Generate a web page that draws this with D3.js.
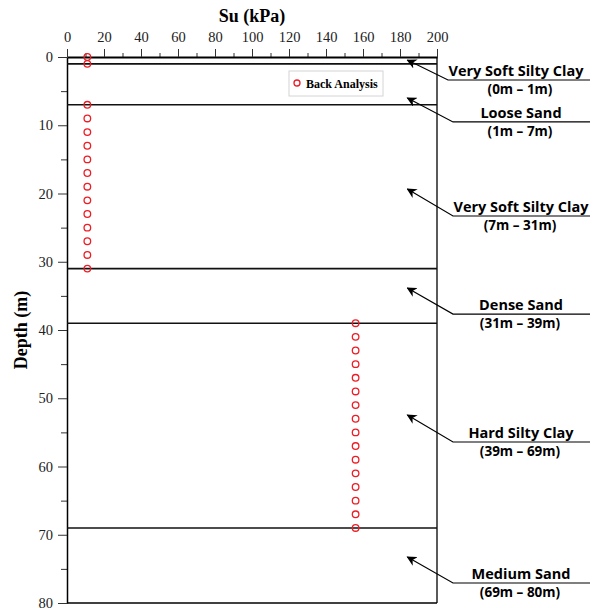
<!DOCTYPE html>
<html>
<head>
<meta charset="utf-8">
<script src="https://cdn.jsdelivr.net/npm/d3@7"></script>
<style>
  body { margin: 0; background: #fff; }
  .tick text { font-family: "Liberation Serif", "Times New Roman", serif; font-size: 14.5px; fill: #222; }
  .layerName { font-family: "Open Sans", "Noto Sans", sans-serif; font-weight: bold; font-size: 14.5px; }
  .layerRange { font-family: "Open Sans", "Noto Sans", sans-serif; font-weight: bold; font-size: 13.5px; }
</style>
</head>
<body>
<svg id="chart" width="597" height="608"></svg>
<script>
// back analysis Su points (kPa) vs depth (m)
var suShallow = [11, 11, 11, 11, 11, 11, 11, 11, 11, 11, 11, 11, 11, 11, 11]
var depthShallow = [0, 1, 7, 9, 11, 13, 15, 17, 19, 21, 23, 25, 27, 29, 31]
var suDeep = [156, 156, 156, 156, 156, 156, 156, 156, 156, 156, 156, 156, 156, 156, 156, 156]
var depthDeep = [39, 41, 43, 45, 47, 49, 51, 53, 55, 57, 59, 61, 63, 65, 67, 69]

// soil layers
var layerTops = [0, 1, 7, 31, 39, 69]
var layerBottoms = [1, 7, 31, 39, 69, 80]
var layerNames = ["Very Soft Silty Clay", "Loose Sand", "Very Soft Silty Clay", "Dense Sand", "Hard Silty Clay", "Medium Sand"]
// depth where each label arrow points, and depth of its leader underline
var arrowDepths = [0.45, 6.0, 19.35, 33.85, 52.45, 73.25]
var leaderDepths = [3.37, 9.52, 23.3, 37.66, 56.41, 77.07]
var arrowSu = 184

var xTicks = [0, 20, 40, 60, 80, 100, 120, 140, 160, 180, 200]
var yTicks = [0, 10, 20, 30, 40, 50, 60, 70, 80]

var svg = d3.select("#chart")
var pLeft = 67, pRight = 437, pTop = 57, pBottom = 603

var x = d3.scaleLinear().domain([0, 200]).range([pLeft, pRight])
var y = d3.scaleLinear().domain([0, 80]).range([pTop, pBottom])

svg.append("defs").append("marker")
    .attr("id", "arrow")
    .attr("viewBox", "0 0 10 10")
    .attr("refX", 9).attr("refY", 5)
    .attr("markerWidth", 10).attr("markerHeight", 10)
    .attr("markerUnits", "userSpaceOnUse")
    .attr("orient", "auto")
    .append("path")
    .attr("d", "M0,0 L10,5 L0,10 L3,5 Z")
    .attr("fill", "#000")

// top axis with minor ticks
var xMinor = d3.range(10, 200, 20)
svg.append("g")
    .attr("transform", "translate(0," + pTop + ")")
    .call(d3.axisTop(x).tickValues(xMinor).tickSize(4).tickFormat(""))
    .call(g => g.select(".domain").remove())
var xAxis = svg.append("g")
    .attr("transform", "translate(0," + pTop + ")")
    .call(d3.axisTop(x).tickValues(xTicks).tickSize(8).tickPadding(7).tickSizeOuter(0))
xAxis.select(".domain").attr("stroke-width", 2)

// left axis with minor ticks
svg.append("g")
    .attr("transform", "translate(" + pLeft + ",0)")
    .call(d3.axisLeft(y).tickValues(d3.range(5, 80, 10)).tickSize(6).tickFormat(""))
    .call(g => g.select(".domain").remove())
svg.append("g")
    .attr("transform", "translate(" + pLeft + ",0)")
    .call(d3.axisLeft(y).tickValues(yTicks).tickSize(9).tickPadding(5).tickSizeOuter(0))
    .call(g => g.select(".domain").attr("stroke-width", 1.5))

svg.selectAll(".tick line").attr("stroke", "#333")

// frame right and bottom
svg.append("line")
    .attr("x1", x(200)).attr("x2", x(200))
    .attr("y1", y(0)).attr("y2", y(80))
    .attr("stroke", "#000").attr("stroke-width", 1.3)
svg.append("line")
    .attr("x1", x(0)).attr("x2", x(200))
    .attr("y1", y(80)).attr("y2", y(80))
    .attr("stroke", "#000").attr("stroke-width", 1.3)

// layer boundaries
svg.selectAll(".boundary")
    .data(layerTops.slice(1))
    .enter()
    .append("line")
    .attr("class", "boundary")
    .attr("x1", x(0)).attr("x2", x(200))
    .attr("y1", d => y(d)).attr("y2", d => y(d))
    .attr("stroke", "#111").attr("stroke-width", 1.6)

// points
var pts = suShallow.map((s, i) => [s, depthShallow[i]])
    .concat(suDeep.map((s, i) => [s, depthDeep[i]]))
svg.selectAll(".pt")
    .data(pts)
    .enter()
    .append("circle")
    .attr("class", "pt")
    .attr("cx", d => x(d[0]))
    .attr("cy", d => y(d[1]))
    .attr("r", 3.3)
    .attr("fill", "none")
    .attr("stroke", "#ee1c24")
    .attr("stroke-width", 1.3)

// legend
var lg = svg.append("g").attr("transform", "translate(289,71)")
lg.append("rect")
    .attr("width", 94).attr("height", 25)
    .attr("fill", "#fff").attr("stroke", "#d4d4d4")
lg.append("circle")
    .attr("cx", 8).attr("cy", 12).attr("r", 3)
    .attr("fill", "none").attr("stroke", "#ee1c24").attr("stroke-width", 1.3)
lg.append("text")
    .attr("x", 17).attr("y", 16.5)
    .style("font-family", "'Liberation Serif', 'Times New Roman', serif")
    .style("font-weight", "bold").style("font-size", "12px")
    .text("Back Analysis")

// layer annotations
var ann = svg.selectAll(".ann")
    .data(layerNames.map((n, i) => ({ name: n, top: layerTops[i], bot: layerBottoms[i], d: arrowDepths[i], u: leaderDepths[i] })))
    .enter()
    .append("g")
    .attr("class", "ann")

ann.append("path")
    .attr("d", (d, i) => {
        var ex = i == 0 ? 448 : 453
        return "M590," + y(d.u) + " L" + ex + "," + y(d.u) + " L" + x(arrowSu) + "," + y(d.d)
    })
    .attr("fill", "none")
    .attr("stroke", "#000")
    .attr("stroke-width", 1.2)
    .attr("marker-end", "url(#arrow)")

ann.append("text")
    .attr("class", "layerName")
    .attr("x", (d, i) => i == 0 ? 516 : 521)
    .attr("y", d => y(d.u) - 4)
    .attr("text-anchor", "middle")
    .text(d => d.name)

ann.append("text")
    .attr("class", "layerRange")
    .attr("x", 520)
    .attr("y", d => y(d.u) + 14)
    .attr("text-anchor", "middle")
    .text(d => "(" + d.top + "m \u2013 " + d.bot + "m)")

// axis titles
svg.append("text")
    .attr("x", 252).attr("y", 22)
    .attr("text-anchor", "middle")
    .style("font-family", "'Liberation Serif', 'Times New Roman', serif")
    .style("font-weight", "bold").style("font-size", "18px")
    .text("Su (kPa)")
svg.append("text")
    .attr("transform", "translate(27,330) rotate(-90)")
    .attr("text-anchor", "middle")
    .style("font-family", "'Liberation Serif', 'Times New Roman', serif")
    .style("font-weight", "bold").style("font-size", "18px")
    .text("Depth (m)")
</script>
</body>
</html>
